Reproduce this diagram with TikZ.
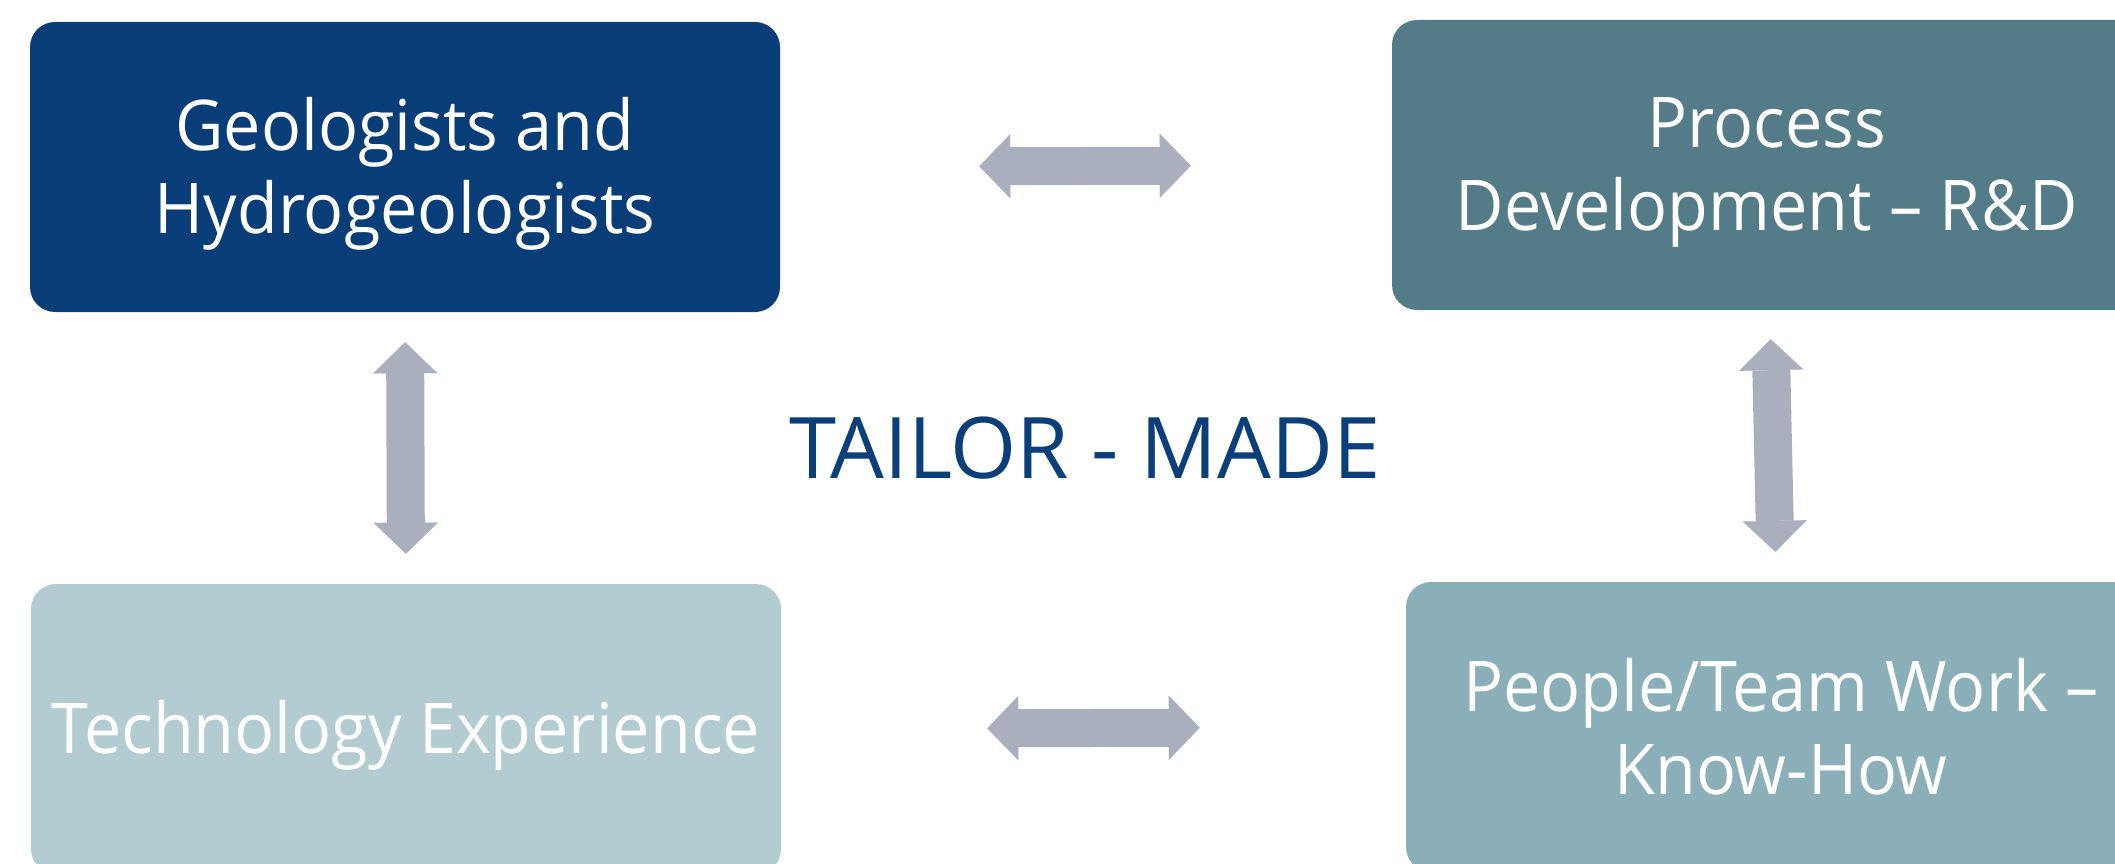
\documentclass[tikz,border=0pt]{standalone}
\usepackage{fontspec}
\setmainfont{Open Sans}
\newfontfamily\boxfont[FakeStretch=0.95]{Open Sans}
\usetikzlibrary{arrows.meta}
\definecolor{geoblue}{HTML}{093D77}
\definecolor{procteal}{HTML}{537C88}
\definecolor{techlight}{HTML}{B2CCD2}
\definecolor{peoplemid}{HTML}{8AAFB8}
\definecolor{arrowgrey}{HTML}{A9AFBD}
\definecolor{titleblue}{HTML}{0B3F7A}
\begin{document}
\begin{tikzpicture}[x=1pt,y=-1pt,
  box/.style={rounded corners=25pt, minimum width=750pt, minimum height=290pt, inner sep=0pt},
  boxtext/.style={align=center, text=white, inner sep=0pt,
    font=\boxfont\fontsize{70}{83}\selectfont},
  blockarrow/.style={draw=arrowgrey, line width=38pt,
    {Triangle[length=31pt,width=64pt,line width=0.1pt]}-{Triangle[length=31pt,width=64pt,line width=0.1pt]}}
]
\useasboundingbox (0,0) rectangle (2115,864);
\node[box, fill=geoblue, label={[boxtext, yshift=-7pt]center:{Geologists and\\Hydrogeologists}}] (geo) at (405,167) {};
\node[box, fill=procteal, label={[boxtext, yshift=-7pt]center:{Process\\Development – R\&D}}] (proc) at (1767,165) {};
\node[box, fill=techlight, label={[boxtext, yshift=-6pt]center:{Technology Experience}}] (tech) at (406,729) {};
\node[box, fill=peoplemid, label={[boxtext, yshift=0pt]center:{People/Team Work –\\Know-How}}] (people) at (1781,727) {};
\node[text=titleblue, inner sep=0pt, font=\fontsize{85}{100}\selectfont] (title) at (1085,448) {TAILOR - MADE};
\draw[blockarrow, shorten <=199pt, shorten >=201pt] (geo.east) -- (proc.west);
\draw[blockarrow, shorten <=206pt, shorten >=206pt] (tech.east) -- (people.west);
\draw[blockarrow, shorten <=30pt, shorten >=30pt] (geo.south) -- (tech.north);
\draw[blockarrow, shorten <=29pt, shorten >=30pt] ([xshift=3pt]proc.south) -- ([xshift=-5pt]people.north);
\end{tikzpicture}
\end{document}
